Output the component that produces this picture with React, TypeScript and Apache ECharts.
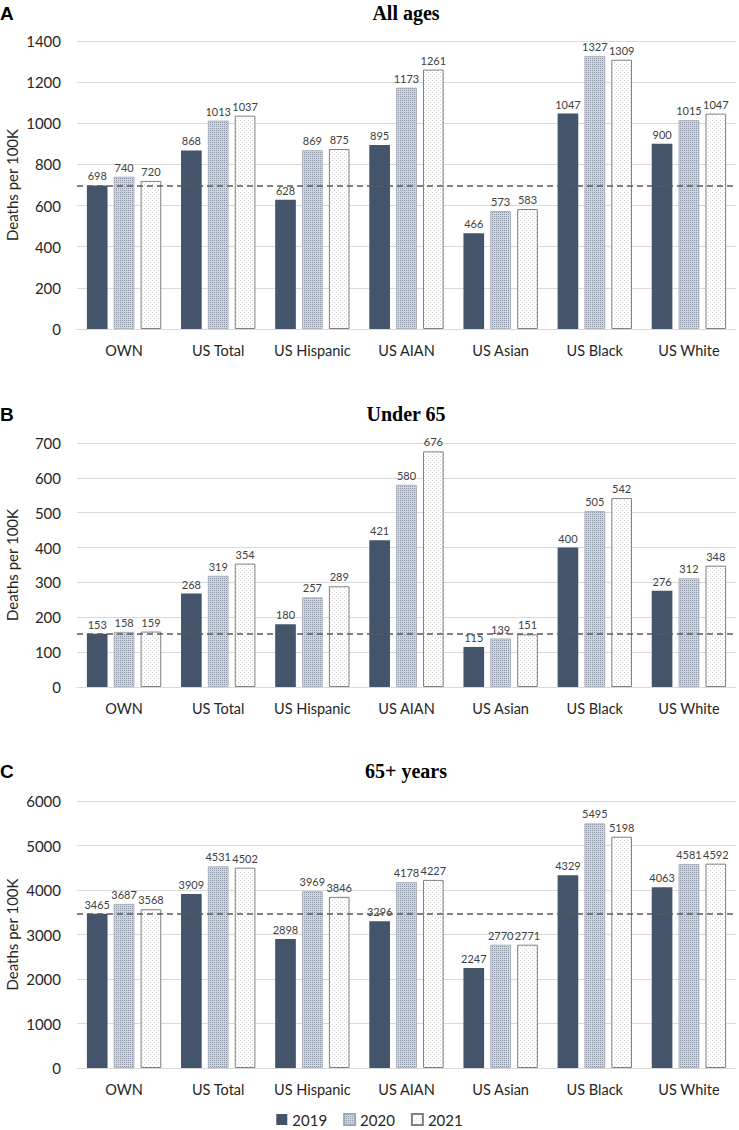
import React, { useEffect, useRef } from "react";
import * as echarts from "echarts";

const categories = ["OWN", "US Total", "US Hispanic", "US AIAN", "US Asian", "US Black", "US White"];
const years = ["2019", "2020", "2021"];

const allAges2019 = [698, 868, 628, 895, 466, 1047, 900];
const allAges2020 = [740, 1013, 869, 1173, 573, 1327, 1015];
const allAges2021 = [720, 1037, 875, 1261, 583, 1309, 1047];

const under65_2019 = [153, 268, 180, 421, 115, 400, 276];
const under65_2020 = [158, 319, 257, 580, 139, 505, 312];
const under65_2021 = [159, 354, 289, 676, 151, 542, 348];

const over65_2019 = [3465, 3909, 2898, 3296, 2247, 4329, 4063];
const over65_2020 = [3687, 4531, 3969, 4178, 2770, 5495, 4581];
const over65_2021 = [3568, 4502, 3846, 4227, 2771, 5198, 4592];

const panelTitles = ["All ages", "Under 65", "65+ years"];
const panelLetters = ["A", "B", "C"];
const panelMax = [1400, 700, 6000];
const panelInterval = [200, 100, 1000];
const referenceLines = [698, 153, 3465];
const axisName = "Deaths per 100K";

function makePattern(size: number, bg: string, dot: string, pts: number[][]) {
  const c = document.createElement("canvas");
  c.width = size;
  c.height = size;
  const ctx = c.getContext("2d")!;
  ctx.fillStyle = bg;
  ctx.fillRect(0, 0, size, size);
  ctx.fillStyle = dot;
  pts.forEach(([x, y]) => ctx.fillRect(x, y, 1, 1));
  return c;
}

export default function App() {
  const ref = useRef<HTMLDivElement>(null);
  useEffect(() => {
    if (!ref.current) return;
    const chart = echarts.init(ref.current, undefined, { renderer: "svg" });

    const p2020 = makePattern(2, "#d2d6dd", "#88919f", [[0, 0]]);
    const p2021 = makePattern(4, "#ffffff", "#d2d2d2", [[0, 0], [2, 2]]);

    const styles = [
      { color: "#44546a", borderColor: "#44546a", borderWidth: 0 },
      {
        color: { image: p2020, repeat: "repeat", imageWidth: 2, imageHeight: 2 },
        borderColor: "#9ea6b3",
        borderWidth: 0.8,
      },
      {
        color: { image: p2021, repeat: "repeat", imageWidth: 4, imageHeight: 4 },
        borderColor: "#808080",
        borderWidth: 1,
      },
    ];

    const grids = [
      { left: 77, width: 659, top: 41, height: 288, outerBoundsMode: "none", containLabel: false },
      { left: 77, width: 659, top: 443, height: 244, outerBoundsMode: "none", containLabel: false },
      { left: 77, width: 659, top: 801, height: 267, outerBoundsMode: "none", containLabel: false },
    ];
    const titleY = [13, 414, 771];
    const data = [
      [allAges2019, allAges2020, allAges2021],
      [under65_2019, under65_2020, under65_2021],
      [over65_2019, over65_2020, over65_2021],
    ];

    const font = "Lato";
    const xAxis = grids.map((_, i) => ({
      type: "category",
      gridIndex: i,
      data: categories,
      axisLine: { lineStyle: { color: "#d9d9d9", width: 1 } },
      axisTick: { show: false },
      axisLabel: { color: "#262626", fontSize: 14.5, fontFamily: font, margin: 14, interval: 0 },
    }));
    const yAxis = grids.map((_, i) => ({
      type: "value",
      gridIndex: i,
      min: 0,
      max: panelMax[i],
      interval: panelInterval[i],
      name: axisName,
      nameLocation: "middle",
      nameGap: 58,
      nameMoveOverlap: false,
      nameTextStyle: { color: "#262626", fontSize: 15, fontFamily: font },
      axisLine: { show: false },
      axisTick: { show: false },
      axisLabel: {
        color: "#262626",
        fontSize: 15,
        fontFamily: font,
        margin: 16,
        formatter: (v: number) => String(v),
      },
      splitLine: { lineStyle: { color: "#d9d9d9", width: 1 } },
    }));

    const series: any[] = [];
    data.forEach((panel, pi) => {
      panel.forEach((vals, yi) => {
        const s: any = {
          type: "bar",
          name: years[yi],
          xAxisIndex: pi,
          yAxisIndex: pi,
          data: vals,
          barGap: "30%",
          barCategoryGap: "21%",
          itemStyle: styles[yi],
          label: {
            show: true,
            position: "top",
            distance: 4,
            fontSize: 11,
            fontFamily: font,
            color: "#404040",
          },
        };
        if (yi === 0) {
          s.markLine = {
            silent: true,
            symbol: ["none", "none"],
            label: { show: false },
            lineStyle: { type: [6, 4], color: "#595959", width: 1.5 },
            data: [{ yAxis: referenceLines[pi] }],
          };
        }
        series.push(s);
      });
    });

    const graphics: any[] = [];
    titleY.forEach((y, i) => {
      graphics.push({
        type: "text",
        x: 406,
        y,
        style: {
          text: panelTitles[i],
          font: "bold 20px 'Liberation Serif'",
          fill: "#000",
          align: "center",
          verticalAlign: "middle",
        },
      });
      graphics.push({
        type: "text",
        x: 0,
        y,
        style: {
          text: panelLetters[i],
          font: "bold 19px 'Liberation Sans'",
          fill: "#000",
          align: "left",
          verticalAlign: "middle",
        },
      });
    });

    chart.setOption({
      animation: false,
      backgroundColor: "#ffffff",
      grid: grids,
      xAxis,
      yAxis,
      series,
      graphic: graphics,
      legend: {
        data: years,
        left: "center",
        top: 1107,
        icon: "rect",
        itemWidth: 11,
        itemHeight: 11,
        itemGap: 16,
        textStyle: { color: "#262626", fontSize: 15, fontFamily: font },
      },
    });
    return () => chart.dispose();
  }, []);
  return (
    <div
      ref={ref}
      style={{ position: "absolute", left: 0, top: 0, width: 739, height: 1130 }}
    />
  );
}
